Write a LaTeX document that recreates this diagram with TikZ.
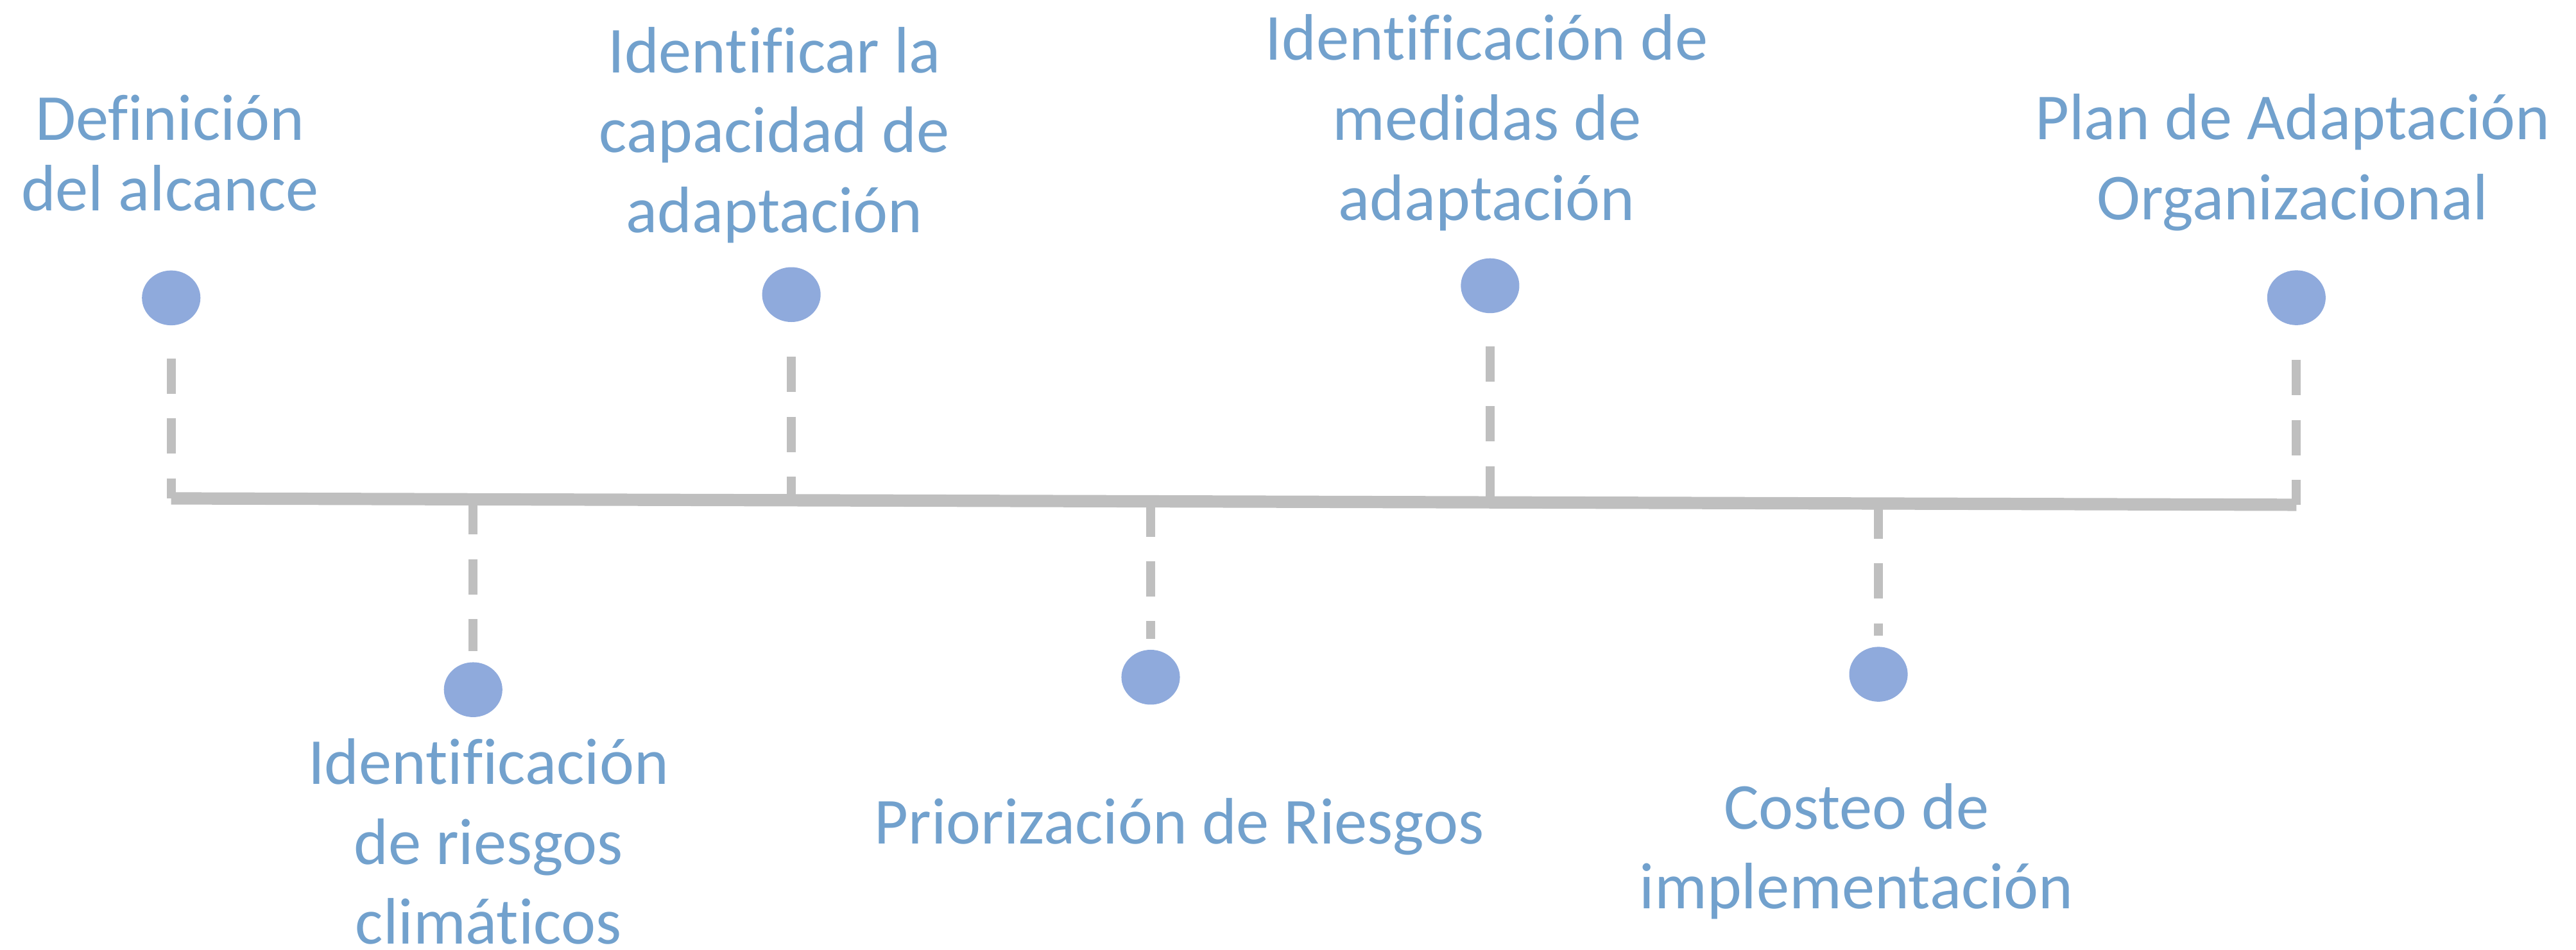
\documentclass[tikz,border=0pt]{standalone}
\usepackage{fontspec}
\setmainfont{Carlito}[Ligatures=NoCommon]
\usetikzlibrary{shapes.geometric}
\definecolor{txtblue}{RGB}{114,161,205}
\definecolor{dotblue}{RGB}{143,170,220}
\definecolor{linegray}{RGB}{191,191,191}
\begin{document}
\begin{tikzpicture}[x=1pt,y=-1pt,
  dot/.style={ellipse, fill=dotblue, draw=none, minimum width=35.6pt, minimum height=33.4pt, inner sep=0pt},
  lbl/.style={align=center, text=txtblue, inner sep=0pt, anchor=base, font=\fontsize{40}{48.7}\selectfont},
  dashline/.style={draw=linegray, line width=5.5pt, dash pattern=on 21.5pt off 15pt},
  mainline/.style={draw=linegray, line width=7.5pt}]
\useasboundingbox (0,0) rectangle (1568,578.5);

% points on the time line
\coordinate (l1) at (104.2,303.5);
\coordinate (l2) at (481.7,304.6);
\coordinate (l3) at (907.0,305.9);
\coordinate (l4) at (1397.8,307.4);
\coordinate (l5) at (288.0,304.0);
\coordinate (l6) at (700.4,305.3);
\coordinate (l7) at (1143.4,306.6);

% dots
\node[dot] (t1) at (104.2,181.4) {};
\node[dot] (t2) at (481.7,179.4) {};
\node[dot] (t3) at (907.0,174.0) {};
\node[dot] (t4) at (1397.8,181.3) {};
\node[dot] (b1) at (288.0,420.0) {};
\node[dot] (b2) at (700.4,412.4) {};
\node[dot] (b3) at (1143.4,410.6) {};

% main line
\draw[mainline] (l1) -- (l4);

% dashed connectors
\draw[dashline] ([yshift=-20pt]t1.south) -- (l1);
\draw[dashline] ([yshift=-21pt]t2.south) -- (l2);
\draw[dashline] ([yshift=-20pt]t3.south) -- (l3);
\draw[dashline] ([yshift=-21pt]t4.south) -- (l4);
\draw[dashline] (l5) -- ([yshift=6.5pt]b1.north);
\draw[dashline] (l6) -- ([yshift=6.5pt]b2.north);
\draw[dashline] (l7) -- ([yshift=6.5pt]b3.north);

% labels (anchor = baseline of the last line)
\node[lbl, font=\fontsize{40}{43.2}\selectfont] (n1) at (103.5,128.5) {Definición\\del alcance};
\node[lbl] (n2) at (471.4,141.6) {Identificar la\\capacidad de\\adaptación};
\node[lbl] (n3) at (905.0,134.0) {Identificación de\\medidas de\\adaptación};
\node[lbl] (n4) at (1395.5,133.8) {Plan de Adaptación\\Organizacional};
\node[lbl] (n5) at (297.3,575.0) {Identificación\\de riesgos\\climáticos};
\node[lbl] (n6) at (717.8,513.7) {Priorización de Riesgos};
\node[lbl] (n7) at (1130.0,553.4) {Costeo de\\implementación};
\end{tikzpicture}
\end{document}
